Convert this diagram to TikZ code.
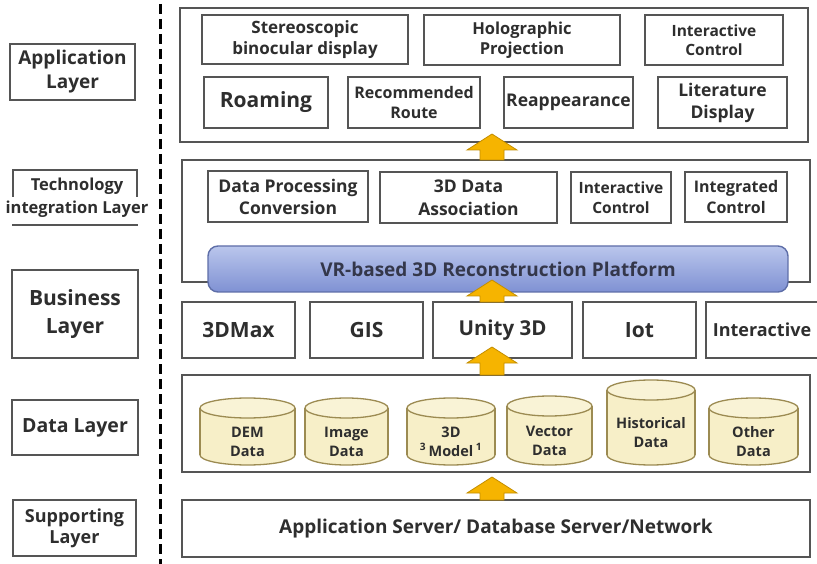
\documentclass[tikz,border=0pt]{standalone}
\usepackage{fontspec}
\setmainfont{Open Sans}
\usetikzlibrary{calc}
\definecolor{linec}{HTML}{555555}
\definecolor{txtc}{HTML}{2E2E2E}
\definecolor{cylf}{HTML}{F7EFC8}
\definecolor{cyltop}{HTML}{F9F3D6}
\definecolor{cylc}{HTML}{9C8B52}
\definecolor{platt}{HTML}{BAC6EC}
\definecolor{platb}{HTML}{7F91D3}
\definecolor{platc}{HTML}{5E6EA8}
\definecolor{platd}{HTML}{34374A}
\definecolor{arrf}{HTML}{F6B400}
\definecolor{arrc}{HTML}{C48E00}
\newcommand\fs[2]{\fontsize{#1}{#2}\selectfont}
\newcommand\mkbox[7][]{%
  \node[box,minimum width={(#5-#3)*1pt},minimum height={(#6-#4)*1pt},#1] (#2) at ({(#3+#5)/2},{(#4+#6)/2}) {#7};}
\newcommand\mkcyl[6]{%
  \pgfmathsetmacro\cx{(#2+#3)/2}\pgfmathsetmacro\rx{(#3-#2)/2}%
  \filldraw[fill=cylf,draw=cylc,line width=1.3pt] (\cx,{#5-10}) ellipse [x radius=\rx pt, y radius=10pt];
  \fill[cylf] (#2,{#4+10}) rectangle (#3,{#5-10});
  \draw[cylc,line width=1.3pt] (#2,{#4+10}) -- (#2,{#5-10}) (#3,{#4+10}) -- (#3,{#5-10});
  \filldraw[fill=cyltop,draw=cylc,line width=1.3pt] (\cx,{#4+10}) ellipse [x radius=\rx pt, y radius=10pt];
  \node[cyltext] (#1) at (\cx,{(#4+20+#5)/2}) {#6};}
\newcommand\uparr[3]{% name, tip y, base y
  \coordinate (#1t) at (492,#2);
  \coordinate (#1b) at (492,#3);
  \filldraw[fill=arrf,draw=arrc,line width=0.8pt,line join=miter]
    (#1t) -- ($(#1t)+(25,16)$) -- ($(#1t)+(12,16)$) -- ($(#1b)+(12,0)$)
    -- ($(#1b)+(-12,0)$) -- ($(#1t)+(-12,16)$) -- ($(#1t)+(-25,16)$) -- cycle;}
\begin{document}
\begin{tikzpicture}[x=1pt,y=-1pt,
  box/.style={draw=linec,line width=1.4pt,fill=white,inner sep=0pt,outer sep=0pt,align=center,text=txtc,font=\bfseries\fs{14}{17}},
  outer/.style={draw=linec,line width=1.4pt,fill=white},
  cyltext/.style={align=center,text=txtc,font=\bfseries\fs{14.5}{19},inner sep=0pt},
  lbl/.style={align=center,text=txtc,font=\bfseries\fs{15.5}{20},inner sep=0pt}]
\useasboundingbox[fill=white] (0,0) rectangle (817,564);
% dashed separator
\draw[black,line width=3pt,dash pattern=on 10pt off 5pt] (160,4) -- (160,564);
% left labels
\mkbox[font=\bfseries\fs{19}{24}]{lapp}{10}{44}{135}{100}{Application\\Layer}
\draw[linec,line width=1.4pt] (13,197) -- (13,170) -- (137,170) -- (137,197);
\draw[linec,line width=1.4pt] (12,225) -- (138,225);
\node[lbl,font=\bfseries\fs{16.5}{23}] (ltech) at (77,198) {Technology\\integration Layer};
\mkbox[font=\bfseries\fs{21}{28}]{lbus}{12}{270}{138}{358}{Business\\Layer}
\mkbox[font=\bfseries\fs{19.5}{22}]{ldata}{12}{400}{138}{455}{Data Layer}
\mkbox[font=\bfseries\fs{18}{21}]{lsup}{13}{500}{136}{556}{Supporting\\Layer}
% application layer
\draw[outer] (180,8) rectangle (808,142);
\mkbox[font=\bfseries\fs{17}{21}]{stereo}{202}{15}{408}{64}{Stereoscopic\\binocular display}
\mkbox[font=\bfseries\fs{16.5}{20}]{holo}{424}{15}{620}{65}{Holographic\\Projection}
\mkbox[font=\bfseries\fs{15.5}{19}]{ictl}{645}{15}{783}{65}{Interactive\\Control}
\mkbox[font=\bfseries\fs{21}{24}]{roam}{204}{77}{328}{128}{Roaming}
\mkbox[font=\bfseries\fs{16}{20}]{route}{348}{77}{480}{128}{Recommended\\Route}
\mkbox[font=\bfseries\fs{17.5}{20}]{reap}{504}{77}{633}{128}{Reappearance}
\mkbox[font=\bfseries\fs{17.5}{22}]{lit}{658}{77}{787}{128}{Literature\\Display}
% technology integration layer
\draw[outer] (182,160) rectangle (810,282);
\mkbox[font=\bfseries\fs{17.5}{22}]{dpc}{208}{171}{368}{222}{Data Processing\\Conversion}
\mkbox[font=\bfseries\fs{17.5}{23}]{assoc}{380}{172}{557}{223}{3D Data\\Association}
\mkbox[font=\bfseries\fs{15.5}{20}]{ictl2}{571}{172}{671}{223}{Interactive\\Control}
\mkbox[font=\bfseries\fs{16}{21}]{integ}{685}{172}{787}{222}{Integrated\\Control}
\node[draw=platc,line width=1.4pt,rounded corners=10pt,top color=platt,bottom color=platb,
  minimum width=580pt,minimum height=46pt,inner sep=0pt,text=platd,font=\bfseries\fs{19}{22}]
  (plat) at (498,269) {VR-based 3D Reconstruction Platform};
% business layer
\mkbox[font=\bfseries\fs{21}{24}]{max}{182}{302}{295}{358}{3DMax}
\mkbox[font=\bfseries\fs{21}{24}]{gis}{310}{302}{423}{358}{GIS}
\mkbox[font=\bfseries\fs{20.5}{24}]{unity}{433}{302}{572}{358}{Unity 3D}
\mkbox[font=\bfseries\fs{21}{24}]{iot}{583}{302}{696}{358}{Iot}
\mkbox[font=\bfseries\fs{18}{22}]{inter}{706}{302}{818}{358}{Interactive}
% data layer
\draw[outer] (182,375) rectangle (810,472);
\mkcyl{dem}{200}{295}{398}{465}{DEM\\Data}
\mkcyl{img}{305}{388}{398}{465}{Image\\Data}
\mkcyl{model}{407}{495}{398}{465}{3D\\\textsuperscript{3}\,Model\,\textsuperscript{1}}
\mkcyl{vec}{507}{592}{396}{465}{Vector\\Data}
\mkcyl{hist}{607}{695}{380}{465}{Historical\\Data}
\mkcyl{oth}{709}{798}{398}{465}{Other\\Data}
% supporting layer
\mkbox[font=\bfseries\fs{19}{22}]{sup}{182}{500}{810}{557}{Application Server/ Database Server/Network}
% arrows
\uparr{a1}{134}{160}
\uparr{a2}{280}{302}
\uparr{a3}{347}{375}
\uparr{a4}{477}{500}
\end{tikzpicture}
\end{document}
